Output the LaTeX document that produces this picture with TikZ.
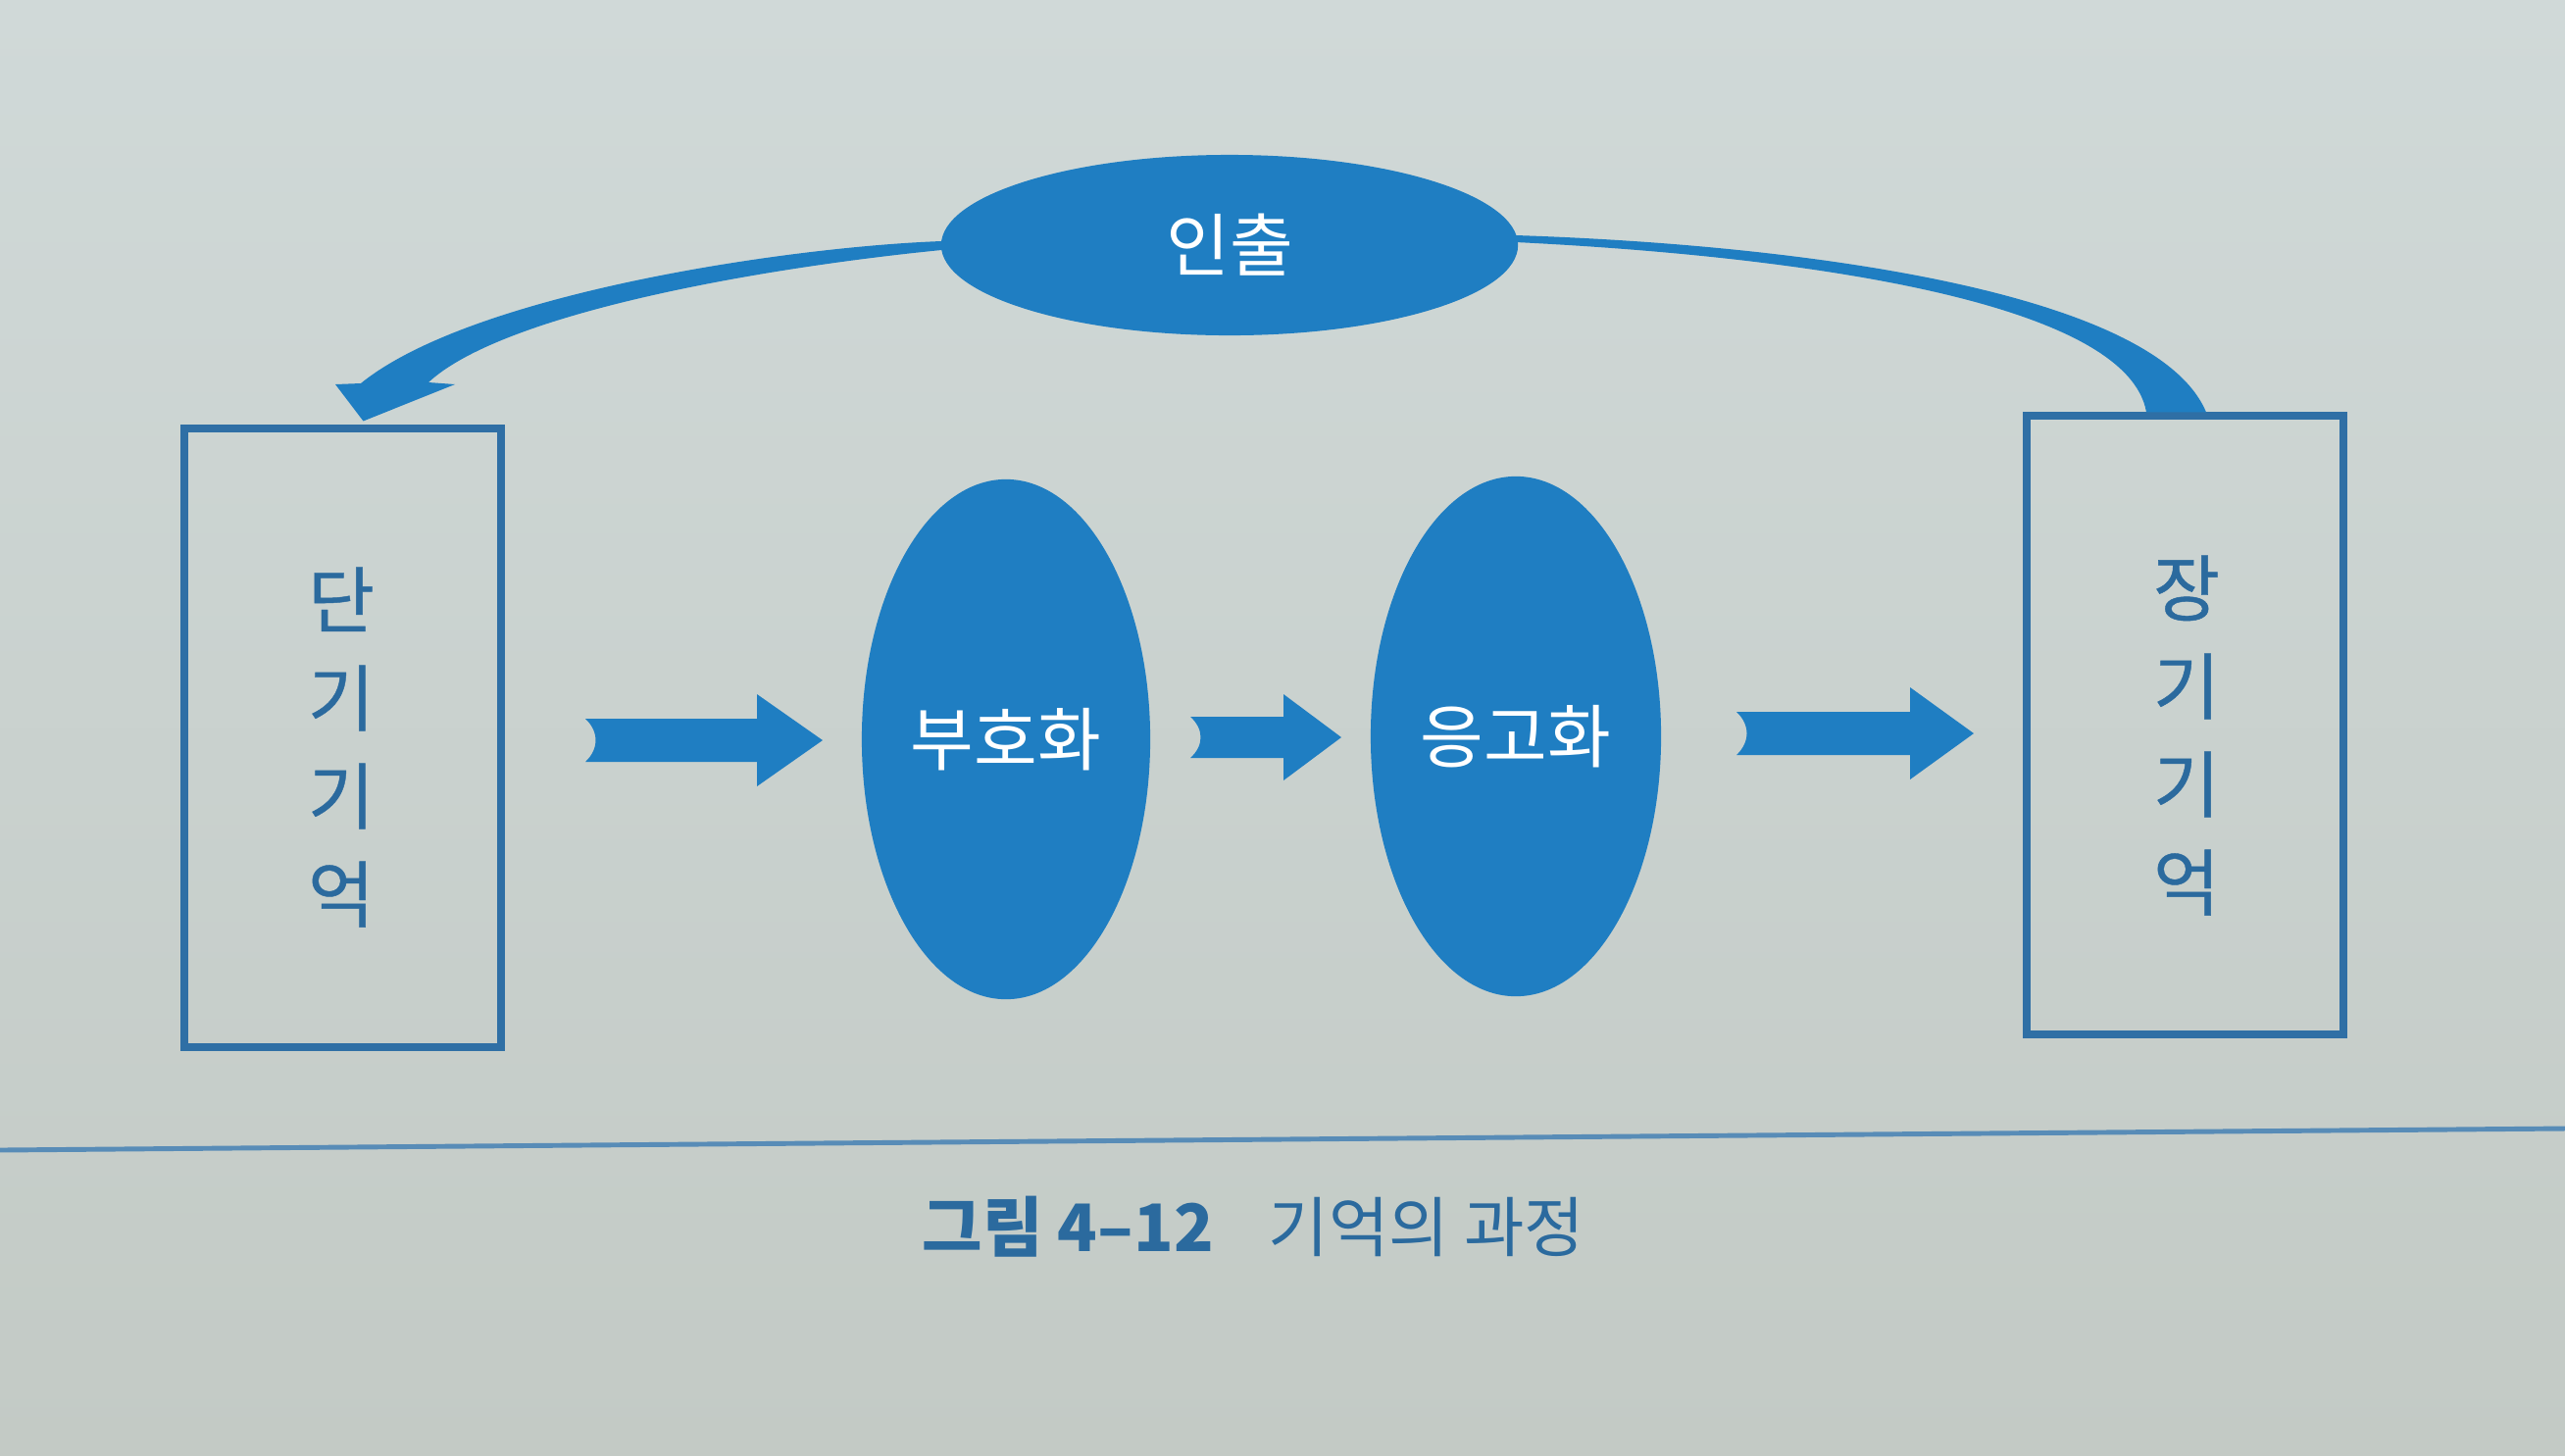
\documentclass[tikz,border=0pt]{standalone}
\usepackage{fontspec}
\newfontfamily\kr{Noto Sans CJK KR}
\newfontfamily\krm[FakeBold=0.6]{Noto Sans CJK KR}
\usetikzlibrary{shapes.geometric,calc}
\definecolor{bgtop}{HTML}{D0D9D8}
\definecolor{bgbot}{HTML}{C3CAC5}
\definecolor{fillblue}{HTML}{1F7EC2}
\definecolor{lineblue}{HTML}{2F6FA5}
\definecolor{textblue}{HTML}{2B6A9E}
\tikzset{
  membox/.style={draw=lineblue, line width=2.2pt, minimum width=3.23cm, minimum height=6.3cm, inner sep=0pt,
    text=textblue, align=center},
  boxtext/.style={text=textblue, font=\krm\fontsize{21}{28.45}\selectfont, align=center, inner sep=0pt},
  procell/.style={ellipse, fill=fillblue, inner sep=0pt, text=white, font=\kr\fontsize{20}{24}\selectfont},
  blk/.style={fill=fillblue},
  captxt/.style={text=textblue, font=\kr\fontsize{19}{23}\selectfont, anchor=west, inner sep=0pt}
}
\newcommand{\blkarrow}[6]{% x1, x2, y, headbase, shaft half, head half
  \fill[blk] (#1,#3-#5) -- (#4,#3-#5) -- (#4,#3-#6) -- (#2,#3) -- (#4,#3+#6) -- (#4,#3+#5) -- (#1,#3+#5)
    .. controls (#1+14,#3+0.4*#5) and (#1+14,#3-0.4*#5) .. cycle;}
\begin{document}
\begin{tikzpicture}[x=0.01cm,y=-0.01cm]
\shade[top color=bgtop, bottom color=bgbot] (0,0) rectangle (2616,1484);
\useasboundingbox (0,0) rectangle (2616,1484);

% boxes
\node[membox] (stm) at (349.5,752.5) {};
\node[membox] (ltm) at (2228.5,739.5) {};
\node[boxtext] (stmt) at (348,762) {단\\기\\기\\억};
\node[boxtext] (ltmt) at (2230,750) {장\\기\\기\\억};

% ellipses
\node[procell, minimum width=5.88cm, minimum height=1.84cm] (ret) at (1254,250) {인출};
\node[procell, minimum width=2.94cm, minimum height=5.3cm] (enc) at (1026,754) {부호화};
\node[procell, minimum width=2.96cm, minimum height=5.3cm] (con) at (1546,751) {응고화};

% straight block arrows
\blkarrow{597}{839}{755}{772}{22}{47}
\blkarrow{1214}{1368}{752}{1309}{21}{44}
\blkarrow{1771}{2013}{748}{1948}{22}{47}

% retrieval curves
\coordinate (tipL) at ($(stm.north)+(21,-4)$);
\fill[blk] ($(ret.west)+(1,-4)$) .. controls (800,252) and (480,300) .. (368,391)
  -- (342,392) -- (tipL) -- (464,392) -- (437,390)
  .. controls (510,322) and (760,275) .. ($(ret.west)+(1,5)$) -- cycle;
\fill[blk] ($(ret.east)+(-3,-10)$) .. controls (1850,250) and (2200,300) .. ($(ltm.north)+(21.5,0)$)
  -- ($(ltm.north)+(-39.5,0)$) .. controls (2170,310) and (1850,262) .. ($(ret.east)+(-3,-3)$) -- cycle;

% caption
\draw[lineblue!80, line width=1.4pt] (0,1173) -- (2616,1151);
\node[captxt] (cap1) at (940,1251) {\bfseries 그림 4–12};
\node[captxt] (cap2) at (1293,1251) {기억의 과정};
\end{tikzpicture}
\end{document}
